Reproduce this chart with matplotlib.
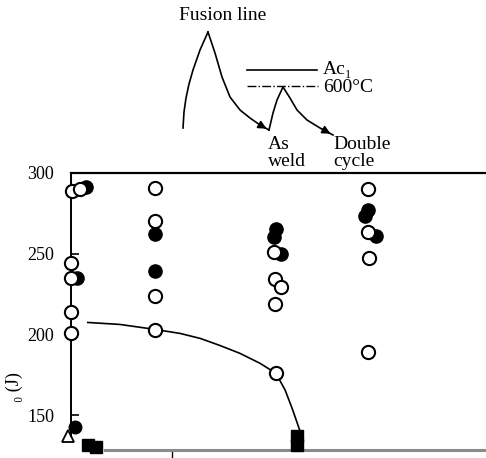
import matplotlib.pyplot as plt

plt.rcParams['font.family'] = ['Liberation Serif', 'DejaVu Serif']

# position (x) and absorbed energy vE0 (J)
open_x = [0.01, 0.11, 0.0, 0.0, 0.0, 0.0,
          1.0, 1.0, 1.0, 1.0,
          2.42, 2.43, 2.5, 2.43, 2.44,
          3.54, 3.54, 3.55, 3.54]
open_y = [289, 290, 244, 235, 214, 201,
          291, 270, 223.5, 203,
          251, 234.5, 229.5, 219, 176,
          290, 263.5, 247.5, 189]

full_x = [0.18, 0.07,
          1.0, 1.0,
          2.44, 2.42, 2.5,
          3.54, 3.5, 3.63]
full_y = [291.5, 235,
          262, 239,
          265.5, 260.5, 250,
          277, 273.5, 261]

# low values, falling under the bottom line
low_x = [0.05, 0.2, 0.3, 2.69, 2.69]
low_y = [142.5, 131.5, 130, 137, 131.5]
low_marker = ['o', 's', 's', 's', 's']
tri_x = [-0.03]
tri_y = [137]

# trend line through the lower points
curve_x = [0.2, 0.58, 1.0, 1.3, 1.54, 1.77, 2.01, 2.25, 2.44, 2.55, 2.64, 2.73]
curve_y = [207.4, 206.2, 203.1, 200.6, 197.5, 193.2, 188.3, 182.1, 175.9, 165.4, 153.1, 139.5]

yticks = [150, 200, 250, 300]

# sketch of the thermal cycles (in picture pixels)
first_up_x = [183, 184, 186, 189, 193, 200, 208]
first_up_y = [128, 112, 98, 84, 70, 50, 32]
first_down_x = [208, 215, 222, 230, 240, 250, 260, 269]
first_down_y = [32, 53, 77, 97, 110, 118, 125, 130]
second_up_x = [269, 273, 277, 283]
second_up_y = [130, 113, 100, 87]
second_down_x = [283, 290, 297, 307, 320, 333]
second_down_y = [87, 98, 110, 120, 128, 135]

fig = plt.figure(figsize=(4.86, 4.58), dpi=100)
ax = fig.add_axes([71 / 486, 1 - 450 / 458, 415 / 486, 277 / 458])

ax.plot(curve_x, curve_y, color='black', lw=1.2, zorder=2)
for x, y, m in zip(low_x, low_y, low_marker):
    ax.plot(x, y, marker=m, ms=9, color='black', ls='none', clip_on=False, zorder=3)
ax.plot(tri_x, tri_y, marker='^', ms=9, mfc='none', mec='black', mew=1.3,
        ls='none', clip_on=False, zorder=3)
ax.plot(full_x, full_y, 'o', ms=9.5, color='black', clip_on=False, zorder=3)
ax.plot(open_x, open_y, 'o', ms=9.5, mfc='white', mec='black', mew=1.5,
        clip_on=False, zorder=4)

ax.set_xlim(0, 4.94)
ax.set_ylim(128.4, 300)
ax.set_yticks(yticks)
ax.tick_params(axis='y', direction='in', length=6, width=1.2, pad=12, labelsize=13)
ax.set_xticks([1.2])
ax.set_xticklabels([''])
ax.tick_params(axis='x', direction='out', length=6, width=1)

ax.spines['right'].set_visible(False)
ax.spines['top'].set_linewidth(1.6)
ax.spines['left'].set_linewidth(1.4)
ax.spines['left'].set_bounds(137, 300)
ax.spines['bottom'].set_color('#8a8a8a')
ax.spines['bottom'].set_linewidth(2.2)
ax.spines['bottom'].set_bounds(0.4, 4.94)

fig.text(0.03, 0.155, '\u2080 (J)', rotation=90, ha='center', va='center', fontsize=13)

# sketch on top
sk = fig.add_axes([0, 0, 1, 1])
sk.set_xlim(0, 486)
sk.set_ylim(458, 0)
sk.axis('off')

sk.plot(first_up_x, first_up_y, color='black', lw=1.2)
sk.plot(first_down_x, first_down_y, color='black', lw=1.2)
sk.plot(second_up_x, second_up_y, color='black', lw=1.2)
sk.plot(second_down_x, second_down_y, color='black', lw=1.2)
sk.annotate('', xy=(first_down_x[-1], first_down_y[-1]),
            xytext=(first_down_x[-2], first_down_y[-2]),
            arrowprops=dict(arrowstyle='-|>', color='black', lw=1.2, mutation_scale=12))
sk.annotate('', xy=(second_down_x[-1], second_down_y[-1]),
            xytext=(second_down_x[-2], second_down_y[-2]),
            arrowprops=dict(arrowstyle='-|>', color='black', lw=1.2, mutation_scale=12))

sk.plot([247, 317], [70, 70], color='black', lw=1.2)
sk.plot([247, 318], [86, 86], color='black', lw=1.0, ls='-.')

sk.text(223, 15, 'Fusion line', ha='center', va='center', fontsize=14)
sk.text(323, 69, 'Ac\u2081', ha='left', va='center', fontsize=14)
sk.text(323, 87, '600\u00b0C', ha='left', va='center', fontsize=14)
sk.text(268, 153, 'As\nweld', ha='left', va='center', fontsize=14, linespacing=1.0)
sk.text(333, 153, 'Double\ncycle', ha='left', va='center', fontsize=14, linespacing=1.0)

plt.savefig('out.png', dpi=100)
